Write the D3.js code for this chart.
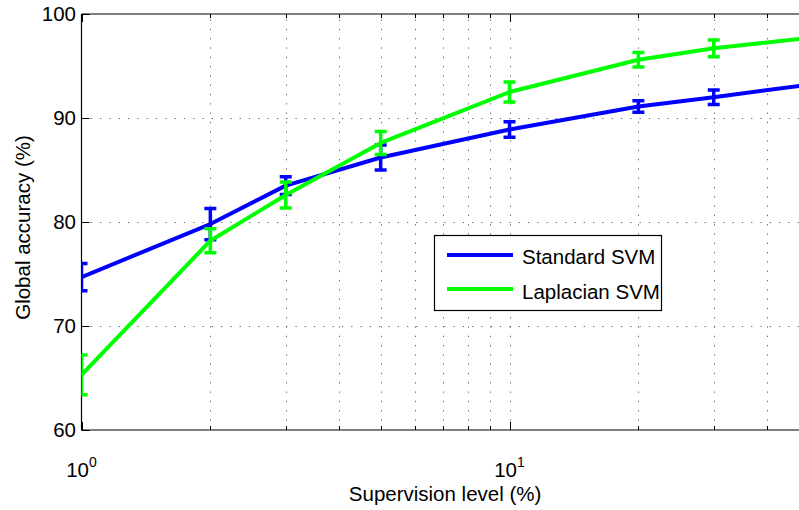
<!DOCTYPE html>
<html>
<head>
<meta charset="utf-8">
<script src="https://cdn.jsdelivr.net/npm/d3@7"></script>
<style>
  html, body { margin: 0; padding: 0; background: #fff; }
  svg { display: block; }
  text { font-family: "Liberation Sans", Arial, Helvetica, sans-serif; fill: #000; }
</style>
</head>
<body>
<div id="chart"></div>
<script>
// ---- data ----
const supervision = [1, 2, 3, 5, 10, 20, 30, 50];
const standardMean = [74.7, 79.8, 83.5, 86.2, 88.9, 91.1, 92.0, 93.2];
const standardErr  = [1.3, 1.5, 0.85, 1.2, 0.75, 0.55, 0.7, 0.6];
const laplacianMean = [65.3, 78.2, 82.6, 87.6, 92.5, 95.6, 96.7, 97.7];
const laplacianErr  = [1.9, 1.15, 1.25, 1.1, 0.95, 0.7, 0.8, 0.7];
const seriesNames = ["Standard SVM", "Laplacian SVM"];
const seriesColors = ["#0000ff", "#00ff00"];
const yTicks = [60, 70, 80, 90, 100];
const xMajorTicks = [1, 10];
const xMinorTicks = [2, 3, 4, 5, 6, 7, 8, 9, 20, 30, 40];
const xTickExponents = ["0", "1"];

(function () {
const W = 799, H = 510;
const pL = 81.5, pR = 808.7, pT = 14, pB = 430;
const FS = 20.5;

const svg = d3.select("#chart").append("svg")
  .attr("width", W).attr("height", H)
  .attr("viewBox", `0 0 ${W} ${H}`);

const x = d3.scaleLog().domain([1, 50]).range([pL, pR]);
const y = d3.scaleLinear().domain([60, 100]).range([pB, pT]);

svg.append("defs").append("clipPath").attr("id", "plotclip")
  .append("rect").attr("x", pL).attr("y", pT)
  .attr("width", pR - pL).attr("height", pB - pT);

// grid
const grid = svg.append("g").attr("stroke", "#666").attr("stroke-width", 1)
  .attr("stroke-dasharray", "1.3,8");
xMinorTicks.concat([10]).forEach(v => {
  grid.append("line").attr("x1", Math.round(x(v)) + 0.5).attr("x2", Math.round(x(v)) + 0.5)
    .attr("y1", pB).attr("y2", pT);
});
yTicks.filter(v => v > 60 && v < 100).forEach(v => {
  grid.append("line").attr("x1", pL).attr("x2", pR)
    .attr("y1", Math.round(y(v)) + 0.5).attr("y2", Math.round(y(v)) + 0.5);
});

// axes frame
const ax = svg.append("g").attr("stroke", "#000").attr("stroke-width", 1.2).attr("fill", "none");
ax.append("line").attr("x1", pL).attr("x2", pR).attr("y1", pB).attr("y2", pB);
ax.append("line").attr("x1", pL).attr("x2", pR).attr("y1", pT).attr("y2", pT);
ax.append("line").attr("x1", pL).attr("x2", pL).attr("y1", pT).attr("y2", pB);

// ticks (inward)
const tk = svg.append("g").attr("stroke", "#000").attr("stroke-width", 1);
xMajorTicks.forEach(v => {
  const px = Math.round(x(v)) + 0.5;
  tk.append("line").attr("x1", px).attr("x2", px).attr("y1", pB).attr("y2", pB - 8);
  tk.append("line").attr("x1", px).attr("x2", px).attr("y1", pT).attr("y2", pT + 8);
});
xMinorTicks.forEach(v => {
  const px = Math.round(x(v)) + 0.5;
  tk.append("line").attr("x1", px).attr("x2", px).attr("y1", pB).attr("y2", pB - 4);
  tk.append("line").attr("x1", px).attr("x2", px).attr("y1", pT).attr("y2", pT + 4);
});
yTicks.forEach(v => {
  const py = Math.round(y(v)) + 0.5;
  tk.append("line").attr("x1", pL).attr("x2", pL + 8).attr("y1", py).attr("y2", py);
});

// tick labels
svg.append("g").selectAll("text").data(yTicks).join("text")
  .attr("x", 76).attr("y", d => y(d) + 7)
  .attr("text-anchor", "end").attr("font-size", FS)
  .text(d => d);

const xl = svg.append("g");
xMajorTicks.forEach((v, i) => {
  const t = xl.append("text").attr("x", x(v)).attr("y", 477)
    .attr("text-anchor", "middle").attr("font-size", FS);
  t.append("tspan").text("10");
  t.append("tspan").attr("font-size", 14).attr("dy", -10).text(xTickExponents[i]);
});

// axis titles
svg.append("text").attr("x", (pL + pR) / 2).attr("y", 501)
  .attr("text-anchor", "middle").attr("font-size", FS)
  .text("Supervision level (%)");
svg.append("text").attr("transform", "translate(30,227.5) rotate(-90)")
  .attr("text-anchor", "middle").attr("font-size", FS)
  .text("Global accuracy (%)");

// series
const series = [
  { mean: standardMean, err: standardErr, color: seriesColors[0] },
  { mean: laplacianMean, err: laplacianErr, color: seriesColors[1] }
];
const plot = svg.append("g").attr("clip-path", "url(#plotclip)");
const line = d3.line().x(d => x(d[0])).y(d => y(d[1]));
const cap = 6;
series.forEach(s => {
  const g = plot.append("g");
  const pts = supervision.map((v, i) => [v, s.mean[i], s.err[i]]);
  g.append("path").datum(pts).attr("d", line)
    .attr("fill", "none").attr("stroke", s.color).attr("stroke-width", 4)
    .attr("stroke-linejoin", "round");
  const eb = g.append("g").attr("stroke", s.color).attr("stroke-width", 3.5);
  pts.forEach(p => {
    const px = x(p[0]);
    eb.append("line").attr("x1", px).attr("x2", px)
      .attr("y1", y(p[1] - p[2])).attr("y2", y(p[1] + p[2]));
    eb.append("line").attr("x1", px - cap).attr("x2", px + cap)
      .attr("y1", y(p[1] - p[2])).attr("y2", y(p[1] - p[2]));
    eb.append("line").attr("x1", px - cap).attr("x2", px + cap)
      .attr("y1", y(p[1] + p[2])).attr("y2", y(p[1] + p[2]));
  });
});

// legend
const lg = svg.append("g");
lg.append("rect").attr("x", 434.5).attr("y", 235.5).attr("width", 227).attr("height", 75)
  .attr("fill", "#fff").attr("stroke", "#000").attr("stroke-width", 1.2);
seriesNames.forEach((name, i) => {
  const ly = [255, 289][i];
  lg.append("line").attr("x1", 447).attr("x2", 513).attr("y1", ly).attr("y2", ly)
    .attr("stroke", seriesColors[i]).attr("stroke-width", 4);
  lg.append("text").attr("x", 522).attr("y", [264, 299][i]).attr("font-size", FS).text(name);
});
})();
</script>
</body>
</html>
